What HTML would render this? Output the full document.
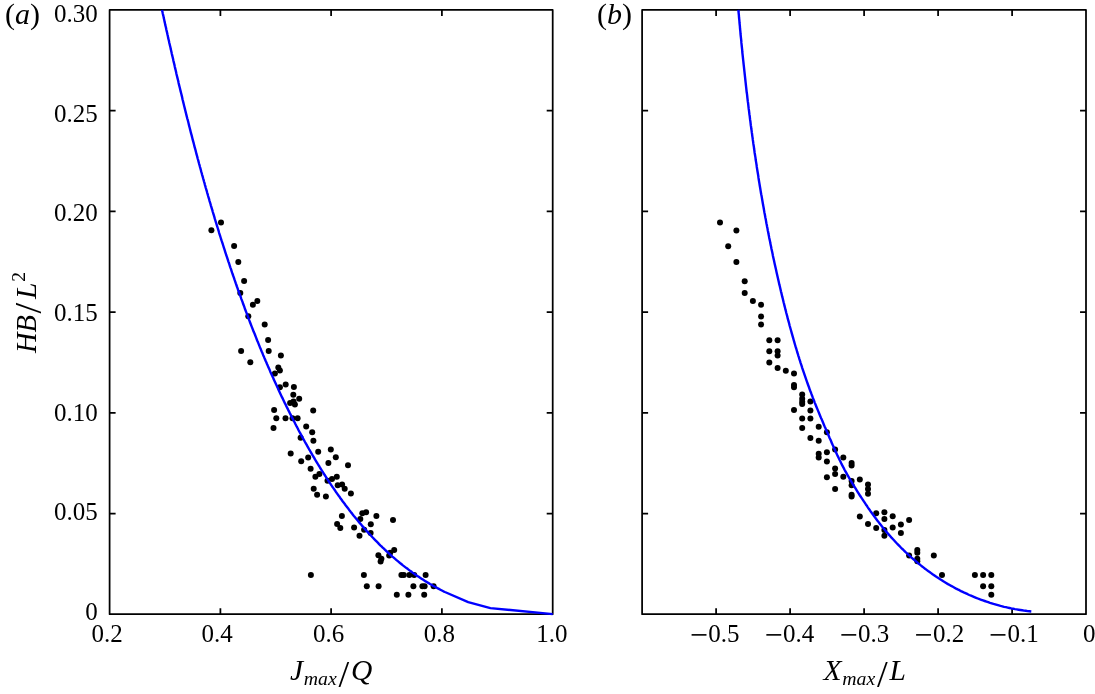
<!DOCTYPE html>
<html><head><meta charset="utf-8"><title>Figure</title>
<style>html,body{margin:0;padding:0;background:#fff}svg{display:block;will-change:transform}text{font-family:"Liberation Serif","DejaVu Serif",serif;fill:#000}.i{font-style:italic}</style></head><body>
<svg width="1095" height="694" viewBox="0 0 1095 694">
<rect width="1095" height="694" fill="#fff"/>
<g stroke="#000" stroke-width="1.75" fill="none" stroke-linecap="butt" stroke-linejoin="round">
<rect x="109.6" y="9.95" width="443.1" height="604.1999999999999"/>
<path d="M220.4,614.15 v-6.0 M220.4,9.95 v6.0"/>
<path d="M331.1,614.15 v-6.0 M331.1,9.95 v6.0"/>
<path d="M441.9,614.15 v-6.0 M441.9,9.95 v6.0"/>
<path d="M109.6,513.5 h6.0 M552.7,513.5 h-6.0"/>
<path d="M109.6,412.8 h6.0 M552.7,412.8 h-6.0"/>
<path d="M109.6,312.1 h6.0 M552.7,312.1 h-6.0"/>
<path d="M109.6,211.4 h6.0 M552.7,211.4 h-6.0"/>
<path d="M109.6,110.7 h6.0 M552.7,110.7 h-6.0"/>
</g>
<g stroke="#000" stroke-width="1.75" fill="none" stroke-linecap="butt" stroke-linejoin="round">
<rect x="642.1" y="9.95" width="443.9" height="604.1999999999999"/>
<path d="M716.1,614.15 v-6.0 M716.1,9.95 v6.0"/>
<path d="M790.1,614.15 v-6.0 M790.1,9.95 v6.0"/>
<path d="M864.1,614.15 v-6.0 M864.1,9.95 v6.0"/>
<path d="M938.1,614.15 v-6.0 M938.1,9.95 v6.0"/>
<path d="M1012.1,614.15 v-6.0 M1012.1,9.95 v6.0"/>
<path d="M642.1,513.5 h6.0 M1086.05,513.5 h-6.0"/>
<path d="M642.1,412.8 h6.0 M1086.05,412.8 h-6.0"/>
<path d="M642.1,312.1 h6.0 M1086.05,312.1 h-6.0"/>
<path d="M642.1,211.4 h6.0 M1086.05,211.4 h-6.0"/>
<path d="M642.1,110.7 h6.0 M1086.05,110.7 h-6.0"/>
</g>
<g fill="#000">
<circle cx="221.0" cy="222.6" r="3.0"/>
<circle cx="211.4" cy="230.2" r="3.0"/>
<circle cx="234.1" cy="246.1" r="3.0"/>
<circle cx="238.3" cy="261.9" r="3.0"/>
<circle cx="244.1" cy="281.1" r="3.0"/>
<circle cx="240.3" cy="292.9" r="3.0"/>
<circle cx="257.3" cy="301.1" r="3.0"/>
<circle cx="252.9" cy="304.7" r="3.0"/>
<circle cx="248.3" cy="316.3" r="3.0"/>
<circle cx="264.7" cy="324.4" r="3.0"/>
<circle cx="268.1" cy="340.0" r="3.0"/>
<circle cx="241.1" cy="351.0" r="3.0"/>
<circle cx="268.7" cy="351.0" r="3.0"/>
<circle cx="280.9" cy="355.4" r="3.0"/>
<circle cx="250.3" cy="362.2" r="3.0"/>
<circle cx="278.3" cy="367.6" r="3.0"/>
<circle cx="279.9" cy="370.6" r="3.0"/>
<circle cx="274.9" cy="373.4" r="3.0"/>
<circle cx="285.7" cy="384.5" r="3.0"/>
<circle cx="293.9" cy="387.1" r="3.0"/>
<circle cx="279.9" cy="387.3" r="3.0"/>
<circle cx="293.3" cy="394.7" r="3.0"/>
<circle cx="299.2" cy="398.7" r="3.0"/>
<circle cx="290.1" cy="402.9" r="3.0"/>
<circle cx="293.5" cy="401.5" r="3.0"/>
<circle cx="294.9" cy="404.5" r="3.0"/>
<circle cx="274.1" cy="409.9" r="3.0"/>
<circle cx="313.2" cy="410.5" r="3.0"/>
<circle cx="276.3" cy="418.3" r="3.0"/>
<circle cx="285.5" cy="418.3" r="3.0"/>
<circle cx="292.5" cy="418.3" r="3.0"/>
<circle cx="297.6" cy="418.3" r="3.0"/>
<circle cx="306.2" cy="426.5" r="3.0"/>
<circle cx="273.5" cy="427.9" r="3.0"/>
<circle cx="312.2" cy="432.3" r="3.0"/>
<circle cx="300.6" cy="437.7" r="3.0"/>
<circle cx="313.4" cy="440.7" r="3.0"/>
<circle cx="330.8" cy="449.4" r="3.0"/>
<circle cx="318.2" cy="451.8" r="3.0"/>
<circle cx="290.7" cy="453.6" r="3.0"/>
<circle cx="335.8" cy="457.2" r="3.0"/>
<circle cx="308.2" cy="457.4" r="3.0"/>
<circle cx="301.2" cy="461.2" r="3.0"/>
<circle cx="328.4" cy="463.0" r="3.0"/>
<circle cx="348.0" cy="465.2" r="3.0"/>
<circle cx="310.6" cy="468.8" r="3.0"/>
<circle cx="319.4" cy="474.0" r="3.0"/>
<circle cx="315.4" cy="476.8" r="3.0"/>
<circle cx="336.8" cy="476.8" r="3.0"/>
<circle cx="332.0" cy="479.0" r="3.0"/>
<circle cx="327.5" cy="480.8" r="3.0"/>
<circle cx="342.1" cy="484.4" r="3.0"/>
<circle cx="337.7" cy="485.2" r="3.0"/>
<circle cx="344.7" cy="488.8" r="3.0"/>
<circle cx="313.7" cy="488.8" r="3.0"/>
<circle cx="350.9" cy="493.6" r="3.0"/>
<circle cx="317.1" cy="494.8" r="3.0"/>
<circle cx="325.9" cy="496.4" r="3.0"/>
<circle cx="366.1" cy="512.3" r="3.0"/>
<circle cx="362.3" cy="513.3" r="3.0"/>
<circle cx="341.9" cy="516.1" r="3.0"/>
<circle cx="376.4" cy="516.1" r="3.0"/>
<circle cx="360.3" cy="518.9" r="3.0"/>
<circle cx="393.0" cy="519.9" r="3.0"/>
<circle cx="337.1" cy="523.9" r="3.0"/>
<circle cx="370.8" cy="524.3" r="3.0"/>
<circle cx="340.3" cy="528.1" r="3.0"/>
<circle cx="354.1" cy="527.5" r="3.0"/>
<circle cx="364.1" cy="529.7" r="3.0"/>
<circle cx="370.6" cy="532.9" r="3.0"/>
<circle cx="359.5" cy="535.7" r="3.0"/>
<circle cx="394.2" cy="549.9" r="3.0"/>
<circle cx="390.2" cy="552.7" r="3.0"/>
<circle cx="389.2" cy="555.5" r="3.0"/>
<circle cx="378.4" cy="555.3" r="3.0"/>
<circle cx="381.4" cy="558.7" r="3.0"/>
<circle cx="380.6" cy="561.5" r="3.0"/>
<circle cx="310.9" cy="575.0" r="3.0"/>
<circle cx="363.9" cy="575.0" r="3.0"/>
<circle cx="401.4" cy="575.0" r="3.0"/>
<circle cx="403.8" cy="575.0" r="3.0"/>
<circle cx="409.4" cy="575.0" r="3.0"/>
<circle cx="414.2" cy="575.0" r="3.0"/>
<circle cx="425.6" cy="575.0" r="3.0"/>
<circle cx="366.8" cy="586.2" r="3.0"/>
<circle cx="378.6" cy="586.2" r="3.0"/>
<circle cx="413.4" cy="586.2" r="3.0"/>
<circle cx="422.4" cy="586.2" r="3.0"/>
<circle cx="424.6" cy="586.2" r="3.0"/>
<circle cx="433.6" cy="586.2" r="3.0"/>
<circle cx="396.8" cy="594.7" r="3.0"/>
<circle cx="408.4" cy="594.7" r="3.0"/>
<circle cx="424.2" cy="594.7" r="3.0"/>
<circle cx="720.0" cy="222.6" r="3.0"/>
<circle cx="736.4" cy="230.4" r="3.0"/>
<circle cx="736.4" cy="261.9" r="3.0"/>
<circle cx="728.2" cy="246.3" r="3.0"/>
<circle cx="744.7" cy="281.3" r="3.0"/>
<circle cx="744.7" cy="293.1" r="3.0"/>
<circle cx="752.9" cy="301.1" r="3.0"/>
<circle cx="761.1" cy="304.7" r="3.0"/>
<circle cx="761.1" cy="316.5" r="3.0"/>
<circle cx="761.1" cy="324.4" r="3.0"/>
<circle cx="769.3" cy="340.2" r="3.0"/>
<circle cx="769.3" cy="351.2" r="3.0"/>
<circle cx="769.3" cy="362.6" r="3.0"/>
<circle cx="777.6" cy="340.2" r="3.0"/>
<circle cx="777.6" cy="351.2" r="3.0"/>
<circle cx="777.6" cy="355.6" r="3.0"/>
<circle cx="777.6" cy="368.0" r="3.0"/>
<circle cx="785.8" cy="370.8" r="3.0"/>
<circle cx="794.0" cy="373.6" r="3.0"/>
<circle cx="794.0" cy="384.9" r="3.0"/>
<circle cx="794.0" cy="387.3" r="3.0"/>
<circle cx="794.0" cy="410.1" r="3.0"/>
<circle cx="802.2" cy="394.5" r="3.0"/>
<circle cx="802.2" cy="398.7" r="3.0"/>
<circle cx="802.2" cy="401.7" r="3.0"/>
<circle cx="802.2" cy="404.1" r="3.0"/>
<circle cx="802.2" cy="418.5" r="3.0"/>
<circle cx="802.2" cy="428.1" r="3.0"/>
<circle cx="810.4" cy="401.5" r="3.0"/>
<circle cx="810.4" cy="410.5" r="3.0"/>
<circle cx="810.4" cy="418.5" r="3.0"/>
<circle cx="810.4" cy="437.9" r="3.0"/>
<circle cx="818.7" cy="426.7" r="3.0"/>
<circle cx="818.7" cy="440.7" r="3.0"/>
<circle cx="818.7" cy="453.8" r="3.0"/>
<circle cx="818.7" cy="457.6" r="3.0"/>
<circle cx="826.9" cy="432.3" r="3.0"/>
<circle cx="826.9" cy="452.2" r="3.0"/>
<circle cx="826.9" cy="461.6" r="3.0"/>
<circle cx="826.9" cy="477.2" r="3.0"/>
<circle cx="835.1" cy="449.6" r="3.0"/>
<circle cx="835.1" cy="468.6" r="3.0"/>
<circle cx="835.1" cy="474.0" r="3.0"/>
<circle cx="835.1" cy="489.0" r="3.0"/>
<circle cx="843.3" cy="457.6" r="3.0"/>
<circle cx="843.3" cy="476.8" r="3.0"/>
<circle cx="851.6" cy="463.0" r="3.0"/>
<circle cx="851.6" cy="465.6" r="3.0"/>
<circle cx="851.6" cy="481.0" r="3.0"/>
<circle cx="851.6" cy="485.2" r="3.0"/>
<circle cx="851.6" cy="494.8" r="3.0"/>
<circle cx="851.6" cy="496.6" r="3.0"/>
<circle cx="859.8" cy="479.6" r="3.0"/>
<circle cx="859.8" cy="516.5" r="3.0"/>
<circle cx="868.0" cy="484.6" r="3.0"/>
<circle cx="868.0" cy="489.0" r="3.0"/>
<circle cx="868.0" cy="493.8" r="3.0"/>
<circle cx="868.0" cy="524.1" r="3.0"/>
<circle cx="876.2" cy="513.3" r="3.0"/>
<circle cx="876.2" cy="528.1" r="3.0"/>
<circle cx="884.4" cy="512.3" r="3.0"/>
<circle cx="884.4" cy="518.9" r="3.0"/>
<circle cx="884.4" cy="530.1" r="3.0"/>
<circle cx="884.4" cy="535.7" r="3.0"/>
<circle cx="892.7" cy="516.3" r="3.0"/>
<circle cx="892.7" cy="527.5" r="3.0"/>
<circle cx="900.9" cy="524.5" r="3.0"/>
<circle cx="900.9" cy="533.1" r="3.0"/>
<circle cx="909.1" cy="519.9" r="3.0"/>
<circle cx="909.1" cy="555.5" r="3.0"/>
<circle cx="917.3" cy="549.9" r="3.0"/>
<circle cx="917.3" cy="552.7" r="3.0"/>
<circle cx="917.3" cy="558.7" r="3.0"/>
<circle cx="917.3" cy="561.3" r="3.0"/>
<circle cx="933.8" cy="555.5" r="3.0"/>
<circle cx="942.0" cy="575.0" r="3.0"/>
<circle cx="974.9" cy="575.0" r="3.0"/>
<circle cx="983.1" cy="575.0" r="3.0"/>
<circle cx="983.1" cy="586.2" r="3.0"/>
<circle cx="991.3" cy="575.0" r="3.0"/>
<circle cx="991.3" cy="586.2" r="3.0"/>
<circle cx="991.3" cy="594.7" r="3.0"/>
</g>
<g stroke="#0000ff" stroke-width="2.4" fill="none" stroke-linejoin="round">
<path d="M162.0,10.0 L162.4,11.6 L162.7,13.3 L163.1,14.9 L163.5,16.5 L163.8,18.1 L164.2,19.7 L164.5,21.4 L164.9,23.0 L165.2,24.6 L165.6,26.2 L166.0,27.8 L166.3,29.5 L166.7,31.1 L167.1,32.7 L167.4,34.3 L167.8,35.9 L168.1,37.6 L168.5,39.2 L168.9,40.8 L169.2,42.4 L169.6,44.1 L170.0,45.7 L170.4,47.3 L170.7,48.9 L171.1,50.5 L171.5,52.2 L171.8,53.8 L172.2,55.4 L172.6,57.0 L173.0,58.6 L173.3,60.3 L173.7,61.9 L174.1,63.5 L174.5,65.1 L174.8,66.8 L175.2,68.4 L175.6,70.0 L176.0,71.6 L176.3,73.2 L176.7,74.9 L177.1,76.5 L177.5,78.1 L177.9,79.7 L178.3,81.3 L178.6,83.0 L179.0,84.6 L179.4,86.2 L179.8,87.8 L180.2,89.5 L180.6,91.1 L181.0,92.7 L181.4,94.3 L181.8,95.9 L182.2,97.6 L182.5,99.2 L182.9,100.8 L183.3,102.4 L183.7,104.0 L184.1,105.7 L184.5,107.3 L184.9,108.9 L185.3,110.5 L185.7,112.1 L186.1,113.8 L186.5,115.4 L186.9,117.0 L187.3,118.6 L187.8,120.2 L188.2,121.8 L188.6,123.5 L189.0,125.1 L189.4,126.7 L189.8,128.3 L190.2,129.9 L190.6,131.6 L191.0,133.2 L191.5,134.8 L191.9,136.4 L192.3,138.0 L192.7,139.6 L193.1,141.2 L193.6,142.9 L194.0,144.5 L194.4,146.1 L194.8,147.7 L195.3,149.3 L195.7,150.9 L196.1,152.5 L196.5,154.2 L197.0,155.8 L197.4,157.4 L197.8,159.0 L198.3,160.6 L198.7,162.2 L199.1,163.8 L199.6,165.4 L200.0,167.1 L200.5,168.7 L200.9,170.3 L201.3,171.9 L201.8,173.5 L202.2,175.1 L202.7,176.7 L203.1,178.3 L203.6,179.9 L204.0,181.5 L204.5,183.1 L204.9,184.8 L205.4,186.4 L205.8,188.0 L206.3,189.6 L206.8,191.2 L207.2,192.8 L207.7,194.4 L208.1,196.0 L208.6,197.6 L209.1,199.2 L209.5,200.8 L210.0,202.4 L210.5,204.0 L210.9,205.6 L211.4,207.2 L211.9,208.8 L212.4,210.4 L212.8,212.0 L213.3,213.6 L213.8,215.2 L214.3,216.8 L214.7,218.4 L215.2,220.0 L215.7,221.6 L216.2,223.2 L216.7,224.8 L217.2,226.4 L217.7,228.0 L218.2,229.6 L218.7,231.2 L219.1,232.8 L219.6,234.3 L220.1,235.9 L220.6,237.5 L221.1,239.1 L221.6,240.7 L222.2,242.3 L222.7,243.9 L223.2,245.5 L223.7,247.1 L224.2,248.6 L224.7,250.2 L225.2,251.8 L225.7,253.4 L226.2,255.0 L226.8,256.6 L227.3,258.2 L227.8,259.7 L228.3,261.3 L228.9,262.9 L229.4,264.5 L229.9,266.1 L230.4,267.6 L231.0,269.2 L231.5,270.8 L232.0,272.4 L232.6,274.0 L233.1,275.5 L233.7,277.1 L234.2,278.7 L234.7,280.2 L235.3,281.8 L235.8,283.4 L236.4,285.0 L236.9,286.5 L237.5,288.1 L238.0,289.7 L238.6,291.2 L239.2,292.8 L239.7,294.4 L240.3,295.9 L240.9,297.5 L241.4,299.1 L242.0,300.6 L242.6,302.2 L243.1,303.8 L243.7,305.3 L244.3,306.9 L244.8,308.5 L245.4,310.0 L246.0,311.6 L246.6,313.1 L247.2,314.7 L247.8,316.2 L248.4,317.8 L248.9,319.4 L249.5,320.9 L250.1,322.5 L250.7,324.0 L251.3,325.6 L251.9,327.1 L252.5,328.7 L253.1,330.2 L253.7,331.8 L254.4,333.3 L255.0,334.8 L255.6,336.4 L256.2,337.9 L256.8,339.5 L257.4,341.0 L258.1,342.6 L258.7,344.1 L259.3,345.6 L259.9,347.2 L260.6,348.7 L261.2,350.3 L261.8,351.8 L262.5,353.3 L263.1,354.9 L263.8,356.4 L264.4,357.9 L265.1,359.5 L265.7,361.0 L266.4,362.5 L267.0,364.0 L267.7,365.6 L268.3,367.1 L269.0,368.6 L269.7,370.1 L270.3,371.7 L271.0,373.2 L271.7,374.7 L272.4,376.2 L273.1,377.7 L273.7,379.3 L274.4,380.8 L275.1,382.3 L275.8,383.8 L276.5,385.3 L277.2,386.8 L277.9,388.3 L278.6,389.9 L279.3,391.4 L280.0,392.9 L280.7,394.4 L281.4,395.9 L282.1,397.4 L282.9,398.9 L283.6,400.4 L284.3,401.9 L285.0,403.4 L285.8,404.9 L286.5,406.4 L287.2,407.9 L288.0,409.4 L288.7,410.9 L289.5,412.4 L290.2,413.9 L291.0,415.4 L291.7,416.9 L292.5,418.3 L293.2,419.8 L294.0,421.3 L294.8,422.8 L295.5,424.3 L296.3,425.8 L297.1,427.2 L297.9,428.7 L298.6,430.2 L299.4,431.7 L300.2,433.2 L301.0,434.6 L301.8,436.1 L302.6,437.6 L303.4,439.0 L304.2,440.5 L305.0,442.0 L305.8,443.4 L306.7,444.9 L307.5,446.4 L308.3,447.8 L309.1,449.3 L310.0,450.7 L310.8,452.2 L311.6,453.6 L312.5,455.1 L313.3,456.5 L314.2,457.9 L315.0,459.4 L315.9,460.8 L316.8,462.3 L317.6,463.7 L318.5,465.1 L319.4,466.5 L320.2,468.0 L321.1,469.4 L322.0,470.8 L322.9,472.2 L323.8,473.6 L324.7,475.0 L325.6,476.4 L326.5,477.8 L327.4,479.2 L328.3,480.6 L329.2,482.0 L330.2,483.4 L331.1,484.8 L332.0,486.2 L333.0,487.6 L333.9,488.9 L334.9,490.3 L335.8,491.7 L336.8,493.1 L337.7,494.4 L338.7,495.8 L339.7,497.1 L340.6,498.5 L341.6,499.8 L342.6,501.2 L343.6,502.5 L344.6,503.8 L345.6,505.2 L346.6,506.5 L347.6,507.8 L348.6,509.1 L349.6,510.5 L350.6,511.8 L351.7,513.1 L352.7,514.4 L353.7,515.7 L354.8,517.0 L355.8,518.2 L356.9,519.5 L357.9,520.8 L359.0,522.1 L360.1,523.4 L361.2,524.6 L362.2,525.9 L363.3,527.1 L364.4,528.4 L365.5,529.6 L366.6,530.9 L367.7,532.1 L368.8,533.3 L370.0,534.5 L371.1,535.8 L372.2,537.0 L373.4,538.2 L374.5,539.4 L375.7,540.6 L376.8,541.7 L378.0,542.9 L379.1,544.1 L380.3,545.3 L381.5,546.4 L382.7,547.6 L383.9,548.7 L385.1,549.9 L386.3,551.0 L387.5,552.1 L388.7,553.2 L390.0,554.3 L391.2,555.5 L392.4,556.6 L393.7,557.6 L394.9,558.7 L396.2,559.8 L397.5,560.9 L398.7,561.9 L400.0,563.0 L401.3,564.0 L402.6,565.1 L403.9,566.1 L405.2,567.1 L406.5,568.1 L407.9,569.1 L409.2,570.1 L410.5,571.1 L411.9,572.1 L413.2,573.1 L414.6,574.0 L415.9,575.0 L417.3,575.9 L418.7,576.8 L420.1,577.8 L421.5,578.7 L422.9,579.6 L424.3,580.5 L425.7,581.4 L427.2,582.3 L428.6,583.1 L430.0,584.0 L431.5,584.8 L432.9,585.7 L434.4,586.5 L435.9,587.3 L437.4,588.1 L438.9,588.9 L440.4,589.7 L441.9,590.5 L443.4,591.3 L444.9,592.0 L468.2,602.1 L490.4,608.1 L552.7,614.1"/>
<path d="M738.4,9.9 L738.5,11.7 L738.7,13.5 L738.9,15.4 L739.0,17.2 L739.2,19.0 L739.4,20.9 L739.5,22.7 L739.7,24.5 L739.9,26.4 L740.0,28.2 L740.2,30.0 L740.4,31.9 L740.5,33.7 L740.7,35.5 L740.9,37.4 L741.1,39.2 L741.3,41.0 L741.4,42.9 L741.6,44.7 L741.8,46.5 L742.0,48.4 L742.2,50.2 L742.3,52.0 L742.5,53.9 L742.7,55.7 L742.9,57.5 L743.1,59.4 L743.3,61.2 L743.5,63.0 L743.7,64.8 L743.9,66.7 L744.1,68.5 L744.3,70.3 L744.5,72.2 L744.7,74.0 L744.9,75.8 L745.1,77.7 L745.3,79.5 L745.5,81.3 L745.7,83.1 L745.9,85.0 L746.1,86.8 L746.3,88.6 L746.5,90.5 L746.7,92.3 L747.0,94.1 L747.2,95.9 L747.4,97.8 L747.6,99.6 L747.8,101.4 L748.1,103.2 L748.3,105.1 L748.5,106.9 L748.7,108.7 L749.0,110.6 L749.2,112.4 L749.4,114.2 L749.7,116.0 L749.9,117.9 L750.1,119.7 L750.4,121.5 L750.6,123.3 L750.8,125.2 L751.1,127.0 L751.3,128.8 L751.6,130.6 L751.8,132.4 L752.1,134.3 L752.3,136.1 L752.6,137.9 L752.8,139.7 L753.1,141.6 L753.3,143.4 L753.6,145.2 L753.9,147.0 L754.1,148.8 L754.4,150.7 L754.6,152.5 L754.9,154.3 L755.2,156.1 L755.5,157.9 L755.7,159.8 L756.0,161.6 L756.3,163.4 L756.6,165.2 L756.8,167.0 L757.1,168.9 L757.4,170.7 L757.7,172.5 L758.0,174.3 L758.3,176.1 L758.5,177.9 L758.8,179.8 L759.1,181.6 L759.4,183.4 L759.7,185.2 L760.0,187.0 L760.3,188.8 L760.6,190.6 L760.9,192.5 L761.2,194.3 L761.6,196.1 L761.9,197.9 L762.2,199.7 L762.5,201.5 L762.8,203.3 L763.1,205.1 L763.5,207.0 L763.8,208.8 L764.1,210.6 L764.4,212.4 L764.8,214.2 L765.1,216.0 L765.4,217.8 L765.8,219.6 L766.1,221.4 L766.4,223.2 L766.8,225.0 L767.1,226.8 L767.5,228.6 L767.8,230.5 L768.2,232.3 L768.5,234.1 L768.9,235.9 L769.2,237.7 L769.6,239.5 L770.0,241.3 L770.3,243.1 L770.7,244.9 L771.1,246.7 L771.4,248.5 L771.8,250.3 L772.2,252.1 L772.6,253.9 L772.9,255.7 L773.3,257.5 L773.7,259.3 L774.1,261.1 L774.5,262.9 L774.9,264.7 L775.3,266.5 L775.7,268.3 L776.1,270.1 L776.5,271.9 L776.9,273.7 L777.3,275.4 L777.7,277.2 L778.1,279.0 L778.5,280.8 L778.9,282.6 L779.3,284.4 L779.8,286.2 L780.2,288.0 L780.6,289.8 L781.0,291.6 L781.5,293.4 L781.9,295.2 L782.3,296.9 L782.8,298.7 L783.2,300.5 L783.6,302.3 L784.1,304.1 L784.5,305.9 L785.0,307.7 L785.4,309.4 L785.9,311.2 L786.3,313.0 L786.8,314.8 L787.3,316.6 L787.7,318.4 L788.2,320.1 L788.7,321.9 L789.2,323.7 L789.6,325.5 L790.1,327.3 L790.6,329.0 L791.1,330.8 L791.6,332.6 L792.1,334.4 L792.6,336.1 L793.1,337.9 L793.6,339.7 L794.1,341.4 L794.6,343.2 L795.1,345.0 L795.6,346.7 L796.2,348.5 L796.7,350.3 L797.2,352.0 L797.8,353.8 L798.3,355.6 L798.9,357.3 L799.4,359.1 L800.0,360.8 L800.5,362.6 L801.1,364.3 L801.7,366.1 L802.2,367.8 L802.8,369.6 L803.4,371.3 L804.0,373.1 L804.6,374.8 L805.2,376.6 L805.8,378.3 L806.4,380.1 L807.0,381.8 L807.6,383.5 L808.2,385.3 L808.9,387.0 L809.5,388.8 L810.1,390.5 L810.8,392.2 L811.4,393.9 L812.1,395.7 L812.7,397.4 L813.4,399.1 L814.1,400.8 L814.7,402.6 L815.4,404.3 L816.1,406.0 L816.8,407.7 L817.5,409.4 L818.2,411.1 L818.9,412.8 L819.6,414.5 L820.3,416.2 L821.0,417.9 L821.8,419.6 L822.5,421.3 L823.2,423.0 L823.9,424.7 L824.6,426.4 L825.4,428.1 L826.1,429.8 L826.8,431.5 L827.6,433.1 L828.3,434.8 L829.0,436.5 L829.7,438.2 L830.5,439.8 L831.2,441.5 L831.9,443.2 L832.6,444.8 L833.4,446.5 L834.1,448.2 L834.9,449.8 L835.6,451.5 L836.4,453.1 L837.1,454.8 L837.9,456.4 L838.7,458.0 L839.5,459.7 L840.3,461.3 L841.1,463.0 L841.9,464.6 L842.7,466.2 L843.6,467.8 L844.4,469.5 L845.3,471.1 L846.2,472.7 L847.1,474.3 L848.0,475.9 L848.9,477.5 L849.9,479.1 L850.8,480.7 L851.8,482.3 L852.7,483.9 L853.7,485.5 L854.7,487.1 L855.7,488.7 L856.7,490.3 L857.6,491.8 L858.6,493.4 L859.6,495.0 L860.6,496.5 L861.7,498.1 L862.7,499.6 L863.7,501.2 L864.7,502.7 L865.7,504.2 L866.8,505.7 L867.8,507.3 L868.8,508.8 L869.9,510.3 L870.9,511.8 L872.0,513.3 L873.1,514.8 L874.2,516.3 L875.3,517.7 L876.4,519.2 L877.5,520.7 L878.6,522.1 L879.7,523.6 L880.9,525.0 L882.0,526.4 L883.2,527.9 L884.3,529.3 L885.5,530.7 L886.7,532.1 L887.9,533.5 L889.1,534.9 L890.3,536.2 L891.5,537.6 L892.8,539.0 L894.0,540.3 L895.3,541.7 L896.5,543.0 L897.8,544.3 L899.1,545.6 L900.4,547.0 L901.7,548.3 L903.0,549.5 L904.3,550.8 L905.6,552.1 L907.0,553.3 L908.3,554.6 L909.7,555.8 L911.0,557.1 L912.4,558.3 L913.8,559.5 L915.2,560.7 L916.6,561.9 L918.0,563.1 L919.4,564.2 L920.8,565.4 L922.2,566.5 L923.7,567.6 L925.1,568.8 L926.6,569.9 L928.1,571.0 L929.6,572.0 L931.1,573.1 L932.6,574.2 L934.1,575.2 L935.6,576.3 L937.1,577.3 L938.7,578.3 L940.2,579.3 L941.8,580.3 L943.3,581.3 L944.9,582.2 L946.5,583.2 L948.0,584.1 L949.6,585.0 L951.2,585.9 L952.9,586.8 L954.5,587.7 L956.1,588.6 L957.7,589.4 L959.4,590.2 L961.0,591.1 L962.7,591.9 L964.3,592.7 L966.0,593.4 L967.7,594.2 L969.3,595.0 L971.0,595.7 L972.7,596.4 L974.4,597.1 L976.1,597.8 L977.8,598.5 L979.5,599.2 L981.3,599.8 L983.0,600.4 L984.7,601.0 L986.5,601.6 L988.2,602.2 L990.0,602.8 L991.7,603.3 L993.5,603.9 L995.2,604.4 L997.0,604.9 L998.8,605.4 L1000.5,605.9 L1002.3,606.3 L1004.1,606.8 L1005.9,607.2 L1007.7,607.6 L1009.5,608.0 L1011.3,608.4 L1013.1,608.7 L1014.9,609.1 L1016.7,609.4 L1018.5,609.7 L1020.3,610.0 L1022.2,610.3 L1024.0,610.6 L1025.8,610.8 L1027.6,611.1 L1029.5,611.3 L1031.3,611.5"/>
</g>
<g font-size="25" text-anchor="end">
<text transform="translate(97.8,620.0) scale(1,1.04)">0</text>
<text transform="translate(97.8,520.3) scale(1,1.04)">0.05</text>
<text transform="translate(97.8,420.7) scale(1,1.04)">0.10</text>
<text transform="translate(97.8,321.0) scale(1,1.04)">0.15</text>
<text transform="translate(97.8,221.3) scale(1,1.04)">0.20</text>
<text transform="translate(97.8,121.6) scale(1,1.04)">0.25</text>
<text transform="translate(97.8,22.0) scale(1,1.04)">0.30</text>
</g>
<g font-size="25" text-anchor="middle">
<text transform="translate(107.1,641.7) scale(1,1.04)">0.2</text>
<text transform="translate(217.1,641.7) scale(1,1.04)">0.4</text>
<text transform="translate(328.6,641.7) scale(1,1.04)">0.6</text>
<text transform="translate(439.4,641.7) scale(1,1.04)">0.8</text>
<text transform="translate(551.9,641.7) scale(1,1.04)">1.0</text>
</g>
<text font-size="25" transform="translate(690.0,641.8) scale(1,1.04)"><tspan font-size="32" dy="4.3">−</tspan><tspan dy="-4.3" dx="0.25">0.5</tspan></text>
<text font-size="25" transform="translate(764.8,641.8) scale(1,1.04)"><tspan font-size="32" dy="4.3">−</tspan><tspan dy="-4.3" dx="0.25">0.4</tspan></text>
<text font-size="25" transform="translate(839.8,641.8) scale(1,1.04)"><tspan font-size="32" dy="4.3">−</tspan><tspan dy="-4.3" dx="0.25">0.3</tspan></text>
<text font-size="25" transform="translate(914.6,641.8) scale(1,1.04)"><tspan font-size="32" dy="4.3">−</tspan><tspan dy="-4.3" dx="0.25">0.2</tspan></text>
<text font-size="25" transform="translate(989.1,641.8) scale(1,1.04)"><tspan font-size="32" dy="4.3">−</tspan><tspan dy="-4.3" dx="0.25">0.1</tspan></text>
<text font-size="25" transform="translate(1083,641.7) scale(1,1.04)">0</text>
<text font-size="30" x="5" y="24">(<tspan class="i">a</tspan>)</text>
<text font-size="30" x="597" y="24">(<tspan class="i">b</tspan>)</text>
<text font-size="29.5" x="290" y="680"><tspan class="i">J</tspan><tspan class="i" font-size="19.8" x="303.8" y="685.4">max</tspan><tspan font-size="38.5" x="338.6" y="686.6">/</tspan><tspan class="i" x="351" y="680">Q</tspan></text>
<text font-size="29.5" x="823.5" y="680"><tspan class="i">X</tspan><tspan class="i" font-size="19.8" x="842.3" y="685.4">max</tspan><tspan font-size="38.5" x="877" y="686.6">/</tspan><tspan class="i" x="889.5" y="680">L</tspan></text>
<text transform="translate(35.7,353) rotate(-90)" font-size="28.5"><tspan class="i" x="0" y="0">HB</tspan><tspan font-size="38.5" x="39.4" y="5.6">/</tspan><tspan class="i" font-size="29.5" x="53.9" y="0">L</tspan><tspan font-size="19.5" x="71.2" y="-11.2">2</tspan></text>
</svg></body></html>
